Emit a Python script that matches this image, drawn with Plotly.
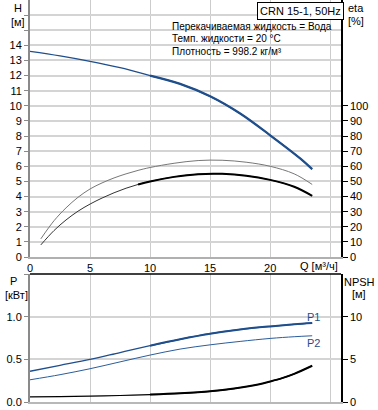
import plotly.graph_objects as go

# ---- data ----
q_h = [0, 2.5, 5, 7.5, 10, 12.5, 15, 17.5, 20, 22.5, 23.5]
head = [13.6, 13.3, 12.94, 12.52, 12.0, 11.45, 10.63, 9.49, 8.05, 6.52, 5.81]

q_eta = [0.9, 2, 3, 4, 5, 6, 7, 8, 9, 10, 12, 14, 16, 18, 20, 22, 23.5]
eta_pump = [8, 17.5, 24.5, 30.3, 35, 39, 42.5, 45.5, 48, 50, 53, 54.8, 55, 53.8, 51, 46.5, 40.5]
eta_total = [12, 24, 32.5, 39.5, 45, 49, 52.3, 55, 57.3, 59.2, 62, 63.8, 64, 62.7, 60, 55, 48]

q_p = [0, 2.5, 5, 7.5, 10, 12.5, 15, 17.5, 20, 22, 23.5]
p1 = [0.36, 0.43, 0.50, 0.58, 0.66, 0.735, 0.80, 0.85, 0.886, 0.91, 0.925]
p2 = [0.26, 0.32, 0.39, 0.47, 0.55, 0.62, 0.67, 0.71, 0.745, 0.765, 0.776]

q_npsh = [0, 2.5, 5, 7.5, 10, 12.5, 15, 17, 19, 20, 21, 22, 23.5]
npsh = [0.6, 0.63, 0.68, 0.76, 0.87, 1.02, 1.25, 1.57, 2.05, 2.4, 2.8, 3.3, 4.25]

x_ticks = [0, 5, 10, 15, 20, 25]
x_labels = ["0", "5", "10", "15", "20", ""]
h_ticks = list(range(0, 17))
h_labels = [str(v) if v <= 14 else "" for v in h_ticks]
eta_ticks = list(range(0, 101, 10))
p_ticks = [0, 0.5, 1.0, 1.5]
p_labels = ["0.0", "0.5", "1.0", ""]
npsh_ticks = [0, 5, 10]

title_box = "CRN 15-1, 50Hz"
info_lines = ["Перекачиваемая жидкость = Вода", "Темп. жидкости = 20 °C", "Плотность = 998.2 кг/м³"]

BLUE = "#1f4e8c"
BLUE2 = "#2a5d9c"
FONT = "'Liberation Sans', Arial, sans-serif"


def sub(xs, ys, xmin):
    pts = [(x, y) for x, y in zip(xs, ys) if x >= xmin]
    return [p[0] for p in pts], [p[1] for p in pts]


fig = go.Figure()

# top: head
fig.add_trace(go.Scatter(x=q_h, y=head, mode="lines", line=dict(color=BLUE, width=1.3, shape="spline"),
                         xaxis="x", yaxis="y", hoverinfo="skip"))
xs, ys = sub(q_h, head, 10)
fig.add_trace(go.Scatter(x=xs, y=ys, mode="lines", line=dict(color=BLUE, width=2.2, shape="spline"),
                         xaxis="x", yaxis="y", hoverinfo="skip"))
# efficiency
fig.add_trace(go.Scatter(x=q_eta, y=eta_total, mode="lines", line=dict(color="#777777", width=1, shape="spline"),
                         xaxis="x", yaxis="y2", hoverinfo="skip"))
fig.add_trace(go.Scatter(x=q_eta, y=eta_pump, mode="lines", line=dict(color="#333333", width=1, shape="spline"),
                         xaxis="x", yaxis="y2", hoverinfo="skip"))
xs, ys = sub(q_eta, eta_pump, 9)
fig.add_trace(go.Scatter(x=xs, y=ys, mode="lines", line=dict(color="#000000", width=2, shape="spline"),
                         xaxis="x", yaxis="y2", hoverinfo="skip"))

# bottom: power
fig.add_trace(go.Scatter(x=q_p, y=p1, mode="lines", line=dict(color=BLUE, width=1.3, shape="spline"),
                         xaxis="x2", yaxis="y3", hoverinfo="skip"))
xs, ys = sub(q_p, p1, 10)
fig.add_trace(go.Scatter(x=xs, y=ys, mode="lines", line=dict(color=BLUE, width=2, shape="spline"),
                         xaxis="x2", yaxis="y3", hoverinfo="skip"))
fig.add_trace(go.Scatter(x=q_p, y=p2, mode="lines", line=dict(color=BLUE2, width=1, shape="spline"),
                         xaxis="x2", yaxis="y3", hoverinfo="skip"))
# NPSH
fig.add_trace(go.Scatter(x=q_npsh, y=npsh, mode="lines", line=dict(color="#000000", width=1.2, shape="spline"),
                         xaxis="x2", yaxis="y4", hoverinfo="skip"))
xs, ys = sub(q_npsh, npsh, 10)
fig.add_trace(go.Scatter(x=xs, y=ys, mode="lines", line=dict(color="#000000", width=2, shape="spline"),
                         xaxis="x2", yaxis="y4", hoverinfo="skip"))

tickfont = dict(family=FONT, size=11, color="#000000")
GRID = "#d4d4d4"

top_dom = [(402 - 257) / 402, 1.0]
bot_dom = [0.0, (402 - 274) / 402]

fig.update_layout(
    width=378, height=410,
    margin=dict(l=30, r=37, t=0, b=8, autoexpand=False),
    paper_bgcolor="white", plot_bgcolor="white",
    showlegend=False,
    font=dict(family=FONT, size=11, color="#000000"),
    xaxis=dict(domain=[0, 1], range=[0, 25.9], anchor="y", tickvals=x_ticks, ticktext=x_labels,
               showgrid=True, gridcolor="#cccccc", gridwidth=1, zeroline=False, automargin=False,
               showline=True, linecolor="#b0b0b0", linewidth=2, ticks="", tickfont=tickfont),
    yaxis=dict(domain=top_dom, range=[0, 17], anchor="x", tickvals=h_ticks, ticktext=h_labels,
               showgrid=True, gridcolor=GRID, gridwidth=1.5, zeroline=False, automargin=False,
               showline=True, linecolor="#8a8a8a", linewidth=2, ticks="outside", ticklen=4,
               tickcolor="#8a8a8a", tickfont=tickfont),
    yaxis2=dict(domain=top_dom, range=[0, 170], anchor="x", overlaying="y", side="right",
                tickvals=eta_ticks, showgrid=False, zeroline=False, automargin=False,
                showline=True, linecolor="#000000", linewidth=1.5, ticks="outside", ticklen=5,
                tickcolor="#000000", tickfont=tickfont),
    xaxis2=dict(domain=[0, 1], range=[0, 25.9], anchor="y3", tickvals=x_ticks, showticklabels=False,
                showgrid=True, gridcolor="#cccccc", gridwidth=1, zeroline=False, automargin=False,
                showline=True, linecolor="#b8b8b8", linewidth=2, ticks=""),
    yaxis3=dict(domain=bot_dom, range=[0, 1.5], anchor="x2", tickvals=p_ticks, ticktext=p_labels,
                showgrid=True, gridcolor=GRID, gridwidth=1.5, zeroline=False, automargin=False,
                showline=True, linecolor="#8a8a8a", linewidth=2, ticks="outside", ticklen=4,
                tickcolor="#8a8a8a", tickfont=tickfont),
    yaxis4=dict(domain=bot_dom, range=[0, 15], anchor="x2", overlaying="y3", side="right",
                tickvals=npsh_ticks, showgrid=False, zeroline=False, automargin=False,
                showline=True, linecolor="#000000", linewidth=1.5, ticks="outside", ticklen=5,
                tickcolor="#000000", tickfont=tickfont),
)

# top border of bottom plot
fig.add_shape(type="line", xref="paper", yref="paper", x0=0, x1=1, y0=bot_dom[1], y1=bot_dom[1],
              line=dict(color="#000000", width=1.5))

ann = []


def px_ann(text, x, y, xanchor="left", size=11, color="#000000", **kw):
    # x, y given in page pixels
    ann.append(dict(text=text, xref="paper", yref="paper",
                    x=(x - 30) / (378 - 30 - 37), y=(402 - y) / 402,
                    xanchor=xanchor, yanchor="middle", showarrow=False,
                    font=dict(family=FONT, size=size, color=color), **kw))


px_ann("H", 18, 8, xanchor="center")
px_ann("[м]", 18, 22, xanchor="center")
px_ann("eta", 346, 8, xanchor="left")
px_ann("[%]", 346, 21, xanchor="left")
px_ann("Q [м³/ч]", 319, 266, xanchor="center")
px_ann("P", 13, 281, xanchor="center")
px_ann("[кВт]", 16, 295, xanchor="center")
px_ann("NPSH", 359, 282, xanchor="center")
px_ann("[м]", 359, 294, xanchor="center")
px_ann("P1", 313, 317, xanchor="center", color=BLUE)
px_ann("P2", 313, 343, xanchor="center", color=BLUE)
px_ann(title_box, 300, 11, xanchor="center", bordercolor="#000000", borderwidth=1, borderpad=2,
       bgcolor="white")
for i, line in enumerate(info_lines):
    px_ann(line, 170, 27 + i * 12, xanchor="left", size=10)

fig.update_layout(annotations=ann)

fig.write_html("out.html", config={"displayModeBar": False},
               post_script="document.body.style.margin='0';document.body.style.padding='0';")
